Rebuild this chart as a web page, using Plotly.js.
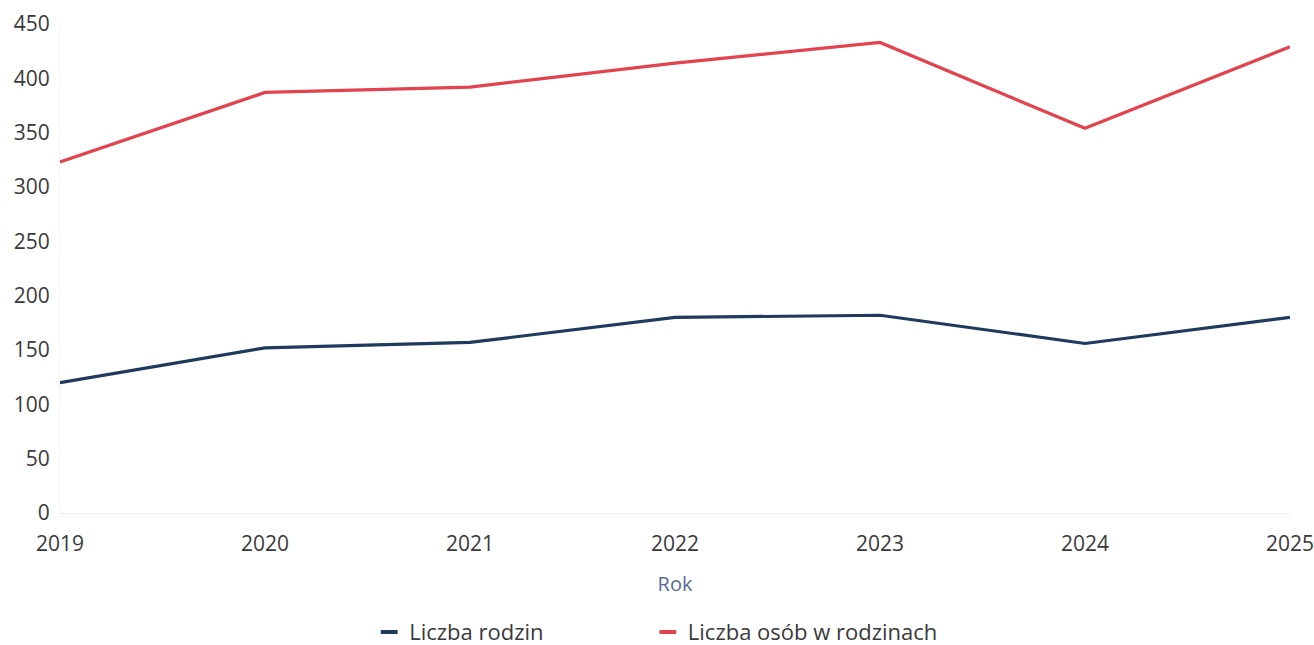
<!DOCTYPE html>
<html>
<head>
<meta charset="utf-8">
<script src="https://cdn.plot.ly/plotly-3.0.1.min.js"></script>
<style>html,body{margin:0;padding:0;background:#fff;}#chart{width:1314px;height:645px;}</style>
</head>
<body>
<div id="chart"></div>
<script>
const years = ["2019","2020","2021","2022","2023","2024","2025"];
const liczbaRodzin = [120, 152, 157, 180, 182, 156, 180];
const liczbaOsob = [323, 387, 392, 414, 433, 354, 429];
const seriesNames = ["Liczba rodzin", "Liczba osób w rodzinach"];
const colors = ["#1f3a5c", "#e2434e"];

const data = [
  {x: years, y: liczbaRodzin, mode: "lines", line: {color: colors[0], width: 3.2}, showlegend: false, name: seriesNames[0]},
  {x: years, y: liczbaOsob, mode: "lines", line: {color: colors[1], width: 3.2}, showlegend: false, name: seriesNames[1]},
  {x: [null], y: [null], mode: "markers", name: seriesNames[0], legend: "legend", marker: {symbol: "line-ew", size: 12, line: {width: 4, color: colors[0]}, color: colors[0]}},
  {x: [null], y: [null], mode: "markers", name: seriesNames[1], legend: "legend2", marker: {symbol: "line-ew", size: 12, line: {width: 4, color: colors[1]}, color: colors[1]}}
];

const legendBase = {
  orientation: "h", xanchor: "left", xref: "container",
  yref: "container", y: 0.02, yanchor: "middle",
  font: {size: 22, color: "#3a3a3a"}, bgcolor: "rgba(0,0,0,0)"
};

const layout = {
  width: 1314, height: 645,
  margin: {l: 60, r: 24, t: 24, b: 132, autoexpand: false},
  paper_bgcolor: "#fff", plot_bgcolor: "#fff",
  font: {family: "Open Sans, Noto Sans, sans-serif", color: "#3a3a3a", size: 20},
  xaxis: {
    type: "category",
    range: [0, 6],
    showgrid: false,
    showline: true, linecolor: "#ececf2", linewidth: 1,
    ticks: "", tickfont: {size: 21, color: "#3a3a3a"},
    ticklabelstandoff: 12,
    title: {text: "Rok", font: {size: 20, color: "#5b6b96"}, standoff: 20},
    zeroline: false,
    automargin: false
  },
  yaxis: {
    range: [0, 450],
    dtick: 50,
    showgrid: false,
    showline: true, linecolor: "#f3f3f6", linewidth: 1,
    zeroline: false,
    ticks: "", tickfont: {size: 21, color: "#3a3a3a"},
    ticklabelstandoff: 5,
    automargin: false
  },
  legend: Object.assign({}, legendBase, {x: 0.281}),
  legend2: Object.assign({}, legendBase, {x: 0.493}),
  showlegend: true
};

Plotly.newPlot("chart", data, layout, {displayModeBar: false, staticPlot: true});
</script>
</body>
</html>
